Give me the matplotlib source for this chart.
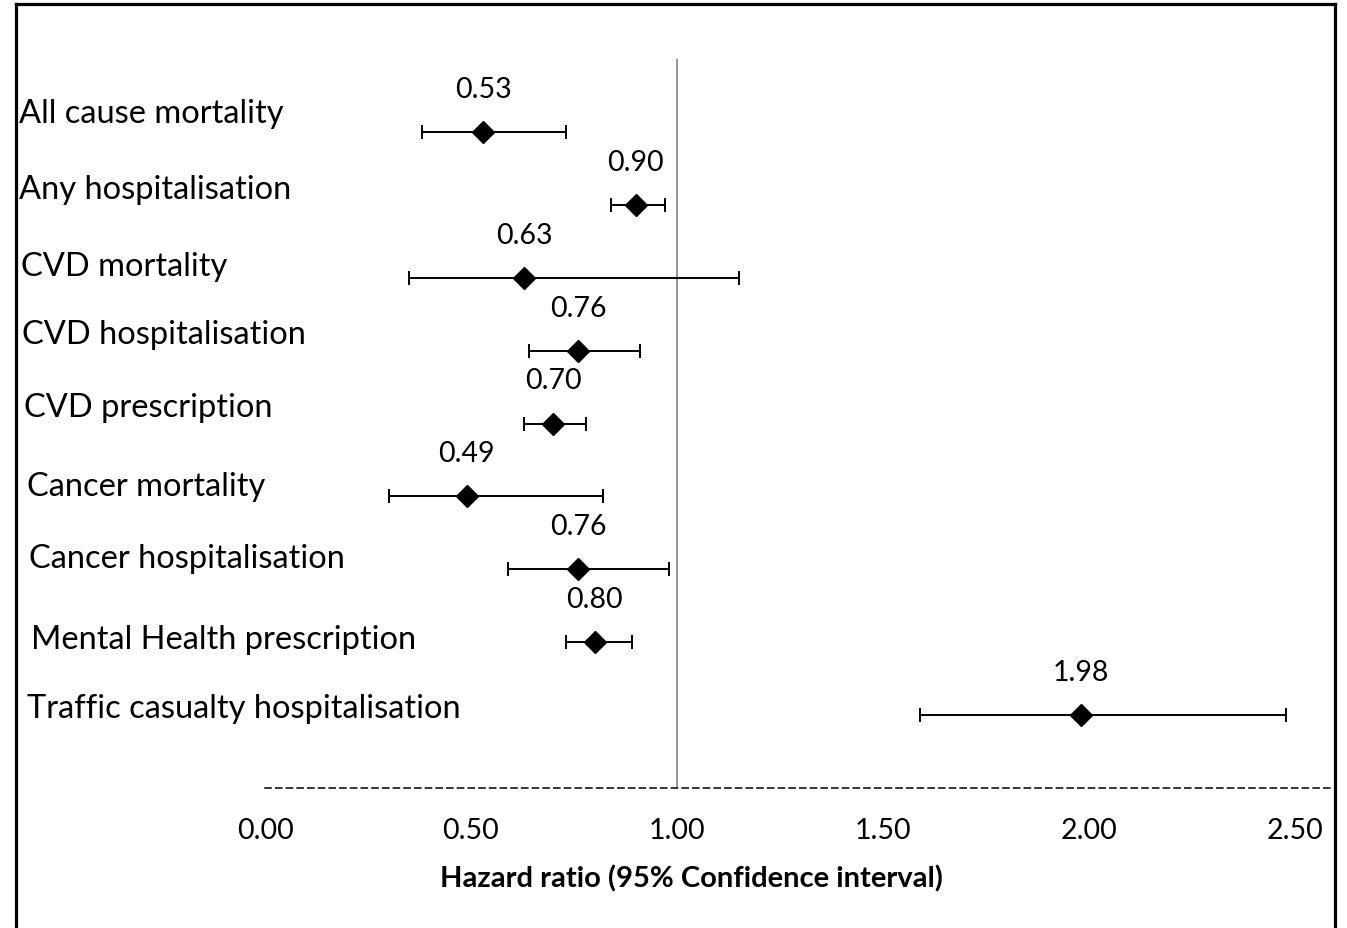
import matplotlib.pyplot as plt
from matplotlib.lines import Line2D

plt.rcParams['font.family'] = ['Lato', 'DejaVu Sans']

# dados
desfechos = ["All cause mortality", "Any hospitalisation", "CVD mortality",
             "CVD hospitalisation", "CVD prescription", "Cancer mortality",
             "Cancer hospitalisation", "Mental Health prescription",
             "Traffic casualty hospitalisation"]
hr = [0.53, 0.90, 0.63, 0.76, 0.70, 0.49, 0.76, 0.80, 1.98]
icInferior = [0.38, 0.84, 0.35, 0.64, 0.63, 0.30, 0.59, 0.73, 1.59]
icSuperior = [0.73, 0.97, 1.15, 0.91, 0.78, 0.82, 0.98, 0.89, 2.48]
ticks = [0.0, 0.5, 1.0, 1.5, 2.0, 2.5]

# pequenos ajustes de posicao dos rotulos (em pixels), como no original
rotuloX = [19, 19, 21, 22, 24, 27, 29, 31, 27]
rotuloDy = [19, 16, 12, 17, 16, 10, 11, 3, 7]

W, H = 1347, 929
fig = plt.figure(figsize=(W / 100, H / 100), dpi=100)
ax = fig.add_axes([265 / W, 1 - 789 / H, 1068 / W, 729 / H])

n = len(hr)
posY = [n - i for i in range(n)]
erros = [[h - lo for h, lo in zip(hr, icInferior)],
         [hi - h for h, hi in zip(hr, icSuperior)]]

ax.axvline(1.0, color='#8c8c8c', lw=1.3, zorder=1)
ax.errorbar(hr, posY, xerr=erros, fmt='D', color='black', ms=11.5,
            ecolor='black', elinewidth=1.4, capsize=4.7, capthick=1.4, zorder=3)

for i in range(n):
    ax.text(hr[i], posY[i] + 0.59, f"{hr[i]:.2f}", ha='center', va='center',
            fontsize=20.5)
    ax.text((rotuloX[i] - 265) / 1068, posY[i] + rotuloDy[i] / 72.9, desfechos[i],
            transform=ax.get_yaxis_transform(), ha='left', va='center',
            fontsize=23.5)

ax.set_xlim(0, 2.593)
ax.set_ylim(0, 10)
ax.set_xticks(ticks)
ax.set_xticklabels([f"{t:.2f}" for t in ticks], fontsize=20.5)
ax.set_yticks([])
ax.tick_params(axis='x', length=0, pad=21)
for lado in ['top', 'right', 'left']:
    ax.spines[lado].set_visible(False)
ax.spines['bottom'].set_linestyle((0, (4, 3)))
ax.spines['bottom'].set_linewidth(1.1)
ax.set_xlabel("Hazard ratio (95% Confidence interval)", fontsize=21,
              fontweight='bold')
ax.xaxis.set_label_coords(0.399, -0.104)

# moldura em volta da figura
borda = dict(color='black', lw=2.3, transform=fig.transFigure)
fig.add_artist(Line2D([16 / W, 16 / W], [0, 1 - 5 / H], **borda))
fig.add_artist(Line2D([16 / W, 1335 / W], [1 - 5 / H, 1 - 5 / H], **borda))
fig.add_artist(Line2D([1335 / W, 1335 / W], [0, 1 - 5 / H], **borda))

fig.savefig("out.png", dpi=100)
